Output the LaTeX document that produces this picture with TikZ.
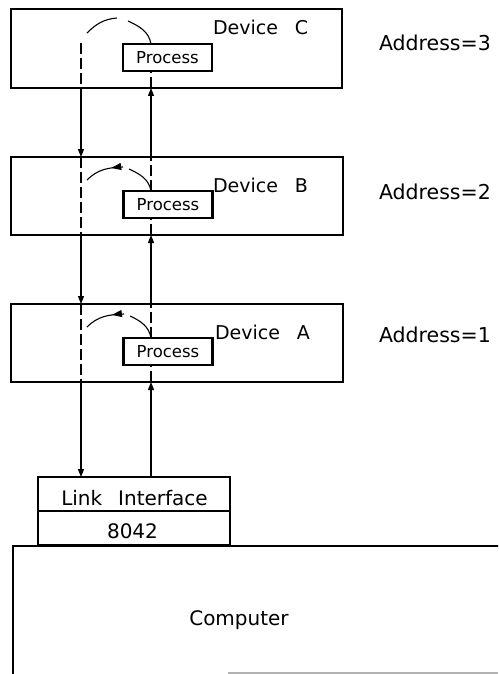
\documentclass[tikz,border=0pt]{standalone}
\usepackage{fontspec}
\setmainfont{DejaVu Sans}
\usetikzlibrary{arrows.meta,decorations.markings}
\begin{document}
\begin{tikzpicture}[x=1pt,y=1pt,
  devbox/.style={draw,line width=2.4pt,inner sep=0pt,outer sep=0pt},
  procbox/.style={draw,line width=2.6pt,inner sep=0pt,outer sep=0pt,minimum width=89pt,minimum height=27pt,font=\fontsize{16.5}{16.5}\selectfont},
  lbl/.style={inner sep=0pt,outer sep=0pt,anchor=base west},
  ctxt/.style={inner sep=0pt,outer sep=0pt,anchor=base,font=\fontsize{20}{20}\selectfont},
  devtxt/.style={lbl,font=\fontsize{19}{19}\selectfont},
  addrtxt/.style={lbl,font=\fontsize{20.5}{20.5}\selectfont},
  conn/.style={line width=1.1pt,-{Triangle[length=8pt,width=6pt]}},
  dashconn/.style={line width=1.1pt,dash pattern=on 11pt off 4pt},
  loopline/.style={line width=1.1pt},
  looparrow/.style={line width=1.1pt,decoration={markings,mark=at position 0.3 with {\arrow{Triangle[length=10pt,width=7pt]}}},postaction={decorate}},
]
\useasboundingbox (0,0) rectangle (498,-674);

% devices
\node[devbox,minimum width=331pt,minimum height=79pt] (devC) at (176.5,-48.5) {};
\node[devbox,minimum width=332pt,minimum height=78pt] (devB) at (177,-196) {};
\node[devbox,minimum width=332pt,minimum height=78pt] (devA) at (177,-343) {};

% processes
\node[procbox] (procC) at (167.5,-57.5) {Process};
\node[procbox] (procB) at (168,-204.5) {Process};
\node[procbox] (procA) at (168,-351.5) {Process};

% device labels
\node[devtxt] (labC) at (213,-35) {Device\hspace{17pt}C};
\node[devtxt] (labB) at (213,-192) {Device\hspace{17pt}B};
\node[devtxt] (labA) at (215,-339) {Device\hspace{17pt}A};

% addresses
\node[addrtxt] (adr3) at (379,-51) {Address=3};
\node[addrtxt] (adr2) at (379,-199) {Address=2};
\node[addrtxt] (adr1) at (379,-342) {Address=1};

% link interface
\node[devbox,minimum width=192pt,minimum height=34pt] (linktop) at (134,-494) {};
\node[devbox,minimum width=192pt,minimum height=34pt] (linkbot) at (134,-528) {};
\node[ctxt] (linktxt) at (134.5,-505) {Link\hspace{16pt}Interface};
\node[ctxt] (numtxt) at (132.5,-538) {8042};

% computer
\begin{scope}
\clip (0,0) rectangle (498,-674);
\node[devbox,minimum width=507pt,minimum height=154pt] (comp) at (266.5,-623) {};
\draw[line width=1.2pt,black!30] (228,-673) -- (498,-673);
\end{scope}
\node[ctxt] (comptxt) at (239,-625) {Computer};

% line positions
\coordinate (L) at (81,0);
\coordinate (R) at (151,0);
\coordinate (cL) at (81,-43);

% left (downward) line
\draw[dashconn] (cL) -- (devC.south -| L);
\draw[conn] (devC.south -| L) -- (devB.north -| L);
\draw[dashconn] (devB.north -| L) -- (devB.south -| L);
\draw[conn] (devB.south -| L) -- (devA.north -| L);
\draw[dashconn] (devA.north -| L) -- (devA.south -| L);
\draw[conn] (devA.south -| L) -- (linktop.north -| L);

% right (upward) line
\draw[conn] (linktop.north -| R) -- (devA.south -| R);
\draw[dashconn] (devA.south -| R) -- (procA.south -| R);
\draw[dashconn] (procA.north -| R) -- (devA.north -| R);
\draw[conn] (devA.north -| R) -- (devB.south -| R);
\draw[dashconn] (devB.south -| R) -- (procB.south -| R);
\draw[dashconn] (procB.north -| R) -- (devB.north -| R);
\draw[conn] (devB.north -| R) -- (devC.south -| R);
\draw[dashconn] (devC.south -| R) -- (procC.south -| R);

% loops
\coordinate (kC1) at (128,-21);
\coordinate (kC2) at (117,-18);
\coordinate (kC3) at (87,-33);
\draw[loopline] (procC.north -| R) to[out=100,in=-25] (kC1);
\draw[loopline] (kC2) to[out=185,in=45] (kC3);

\coordinate (kB1) at (129,-169);
\coordinate (kB2) at (123,-167);
\coordinate (kB3) at (87,-180);
\draw[loopline] (procB.north -| R) to[out=100,in=-25] (kB1);
\draw[looparrow] (kB2) to[out=182,in=45] (kB3);

\coordinate (kA1) at (130,-316);
\coordinate (kA2) at (124,-314);
\coordinate (kA3) at (87,-327);
\draw[loopline] (procA.north -| R) to[out=100,in=-25] (kA1);
\draw[looparrow] (kA2) to[out=182,in=45] (kA3);
\end{tikzpicture}
\end{document}
